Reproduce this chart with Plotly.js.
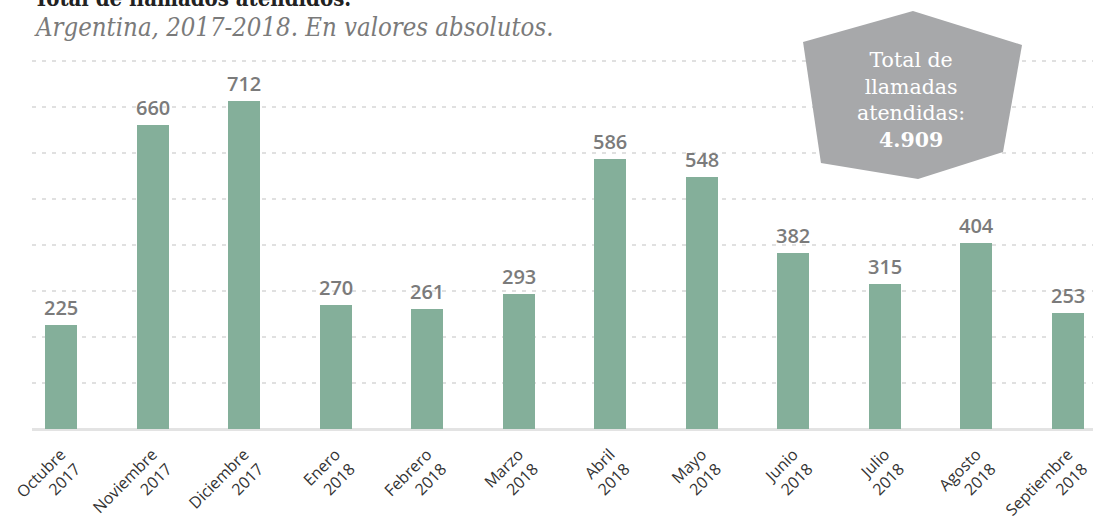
<!DOCTYPE html>
<html>
<head>
<meta charset="utf-8">
<script src="https://cdn.plot.ly/plotly-3.0.1.min.js"></script>
<style>html,body{margin:0;padding:0;background:#fff}#chart{width:1093px;height:521px}</style>
</head>
<body>
<div id="chart"></div>
<script>
const months = ["Octubre<br>2017","Noviembre<br>2017","Diciembre<br>2017","Enero<br>2018","Febrero<br>2018","Marzo<br>2018","Abril<br>2018","Mayo<br>2018","Junio<br>2018","Julio<br>2018","Agosto<br>2018","Septiembre<br>2018"];
const llamadas = [225,660,712,270,261,293,586,548,382,315,404,253];
const totalText = "Total de<br>llamadas<br>atendidas:<br><b>4.909</b>";
const titleText = "Total de llamados atendidos.";
const subtitleText = "Argentina, 2017-2018. En valores absolutos.";

const idx = months.map((m,i)=>i);
const barColor = "#84af9a";

const trace = {
  type: "bar",
  x: idx,
  y: llamadas,
  width: 0.35,
  marker: {color: barColor},
  hoverinfo: "skip"
};

const valueAnns = llamadas.map((v,i)=>({
  x: i, y: v, xref: "x", yref: "y",
  text: String(v), showarrow: false,
  yanchor: "bottom", yshift: 2,
  font: {family: "Open Sans, sans-serif", size: 20, color: "#7b7b7b", weight: 600}
}));

// callout polygon in paper coords (plot area: x 32..1093, y 56..429)
const poly = [[913,11],[1022,45],[1003,152],[918,179],[821,163],[803,42]];
const path = "M " + poly.map(p=>((p[0]-32)/1061).toFixed(4)+","+((429-p[1])/373).toFixed(4)).join(" L ") + " Z";

const layout = {
  width: 1093, height: 521,
  margin: {l: 32, r: 0, t: 56, b: 92},
  paper_bgcolor: "#fff", plot_bgcolor: "#fff",
  showlegend: false,
  bargap: 0,
  xaxis: {
    type: "linear",
    range: [-0.317, 11.273],
    tickmode: "array", tickvals: idx, ticktext: months,
    tickangle: -45,
    ticklabelstandoff: 12,
    tickfont: {family: "Open Sans, sans-serif", size: 16, color: "#333"},
    showgrid: false, zeroline: false, showline: false, ticks: "",
    fixedrange: true
  },
  yaxis: {
    range: [0, 810], dtick: 100, tick0: 0,
    showticklabels: false, ticks: "",
    showgrid: true, gridcolor: "#e0e0e0", gridwidth: 2, griddash: "4px,6px",
    zeroline: true, zerolinecolor: "#e3e3e3", zerolinewidth: 3,
    fixedrange: true
  },
  shapes: [{
    type: "path", xref: "paper", yref: "paper", path: path,
    fillcolor: "#a7a8aa", line: {width: 0}, layer: "above"
  }],
  annotations: valueAnns.concat([
    {xref: "paper", yref: "paper", x: (911-32)/1061, y: (429-100)/373, text: totalText, showarrow: false,
     xanchor: "center", yanchor: "middle", align: "center",
     font: {family: "DejaVu Serif, serif", size: 20.5, color: "#ffffff"}},
    {xref: "paper", yref: "paper", x: 0, y: 1, xanchor: "left", yanchor: "middle",
     xshift: 0, yshift: 58, text: "<b>"+titleText+"</b>", showarrow: false,
     font: {family: "DejaVu Serif Condensed, DejaVu Serif, serif", size: 22, color: "#222"}},
    {xref: "paper", yref: "paper", x: 0, y: 1, xanchor: "left", yanchor: "middle",
     xshift: 0, yshift: 29, text: "<i>"+subtitleText+"</i>", showarrow: false,
     font: {family: "DejaVu Serif Condensed, DejaVu Serif, serif", size: 25.5, color: "#7a7a7a"}}
  ])
};

Plotly.newPlot("chart", [trace], layout, {displayModeBar: false, staticPlot: true});
</script>
</body>
</html>
